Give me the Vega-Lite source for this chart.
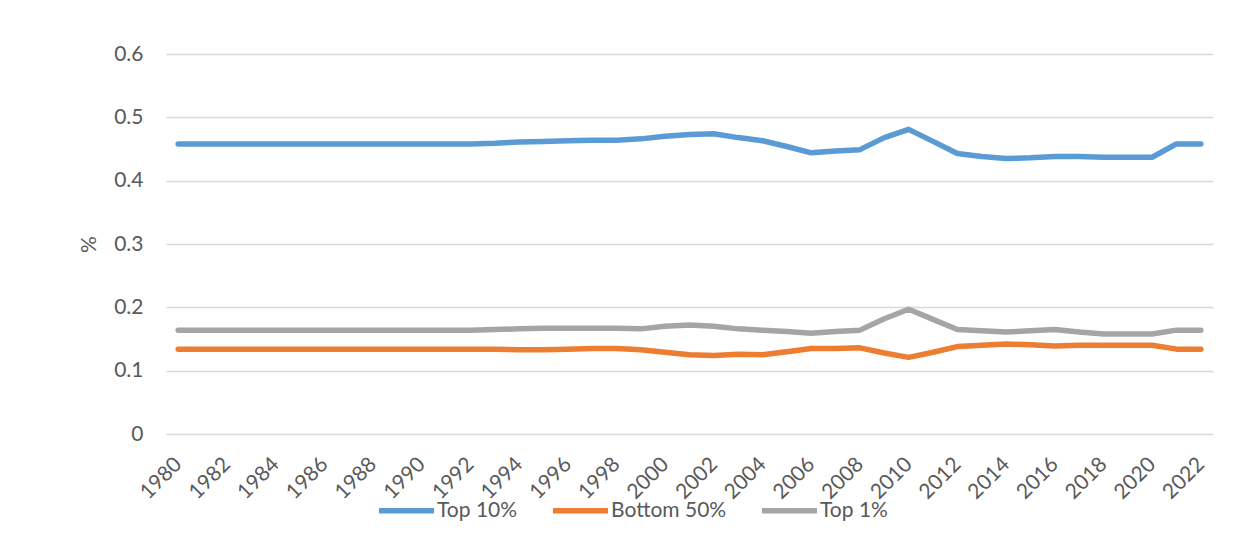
{
  "$schema": "https://vega.github.io/schema/vega-lite/v6.json",
  "width": 1047,
  "height": 380,
  "autosize": {"type": "none"},
  "padding": {"left": 166, "top": 54, "right": 35, "bottom": 108},
  "background": "white",
  "config": {
    "view": {"stroke": null},
    "font": "Lato",
    "axis": {"labelColor": "#595959", "titleColor": "#595959", "labelFont": "Lato", "titleFont": "Lato"},
    "legend": {"labelColor": "#595959", "labelFont": "Lato"}
  },
  "data": {
    "values": [
      {"year": 1980, "series": "Top 10%", "value": 0.458},
      {"year": 1981, "series": "Top 10%", "value": 0.458},
      {"year": 1982, "series": "Top 10%", "value": 0.458},
      {"year": 1983, "series": "Top 10%", "value": 0.458},
      {"year": 1984, "series": "Top 10%", "value": 0.458},
      {"year": 1985, "series": "Top 10%", "value": 0.458},
      {"year": 1986, "series": "Top 10%", "value": 0.458},
      {"year": 1987, "series": "Top 10%", "value": 0.458},
      {"year": 1988, "series": "Top 10%", "value": 0.458},
      {"year": 1989, "series": "Top 10%", "value": 0.458},
      {"year": 1990, "series": "Top 10%", "value": 0.458},
      {"year": 1991, "series": "Top 10%", "value": 0.458},
      {"year": 1992, "series": "Top 10%", "value": 0.458},
      {"year": 1993, "series": "Top 10%", "value": 0.459},
      {"year": 1994, "series": "Top 10%", "value": 0.461},
      {"year": 1995, "series": "Top 10%", "value": 0.462},
      {"year": 1996, "series": "Top 10%", "value": 0.463},
      {"year": 1997, "series": "Top 10%", "value": 0.464},
      {"year": 1998, "series": "Top 10%", "value": 0.464},
      {"year": 1999, "series": "Top 10%", "value": 0.466},
      {"year": 2000, "series": "Top 10%", "value": 0.470},
      {"year": 2001, "series": "Top 10%", "value": 0.473},
      {"year": 2002, "series": "Top 10%", "value": 0.474},
      {"year": 2003, "series": "Top 10%", "value": 0.468},
      {"year": 2004, "series": "Top 10%", "value": 0.463},
      {"year": 2005, "series": "Top 10%", "value": 0.454},
      {"year": 2006, "series": "Top 10%", "value": 0.444},
      {"year": 2007, "series": "Top 10%", "value": 0.447},
      {"year": 2008, "series": "Top 10%", "value": 0.449},
      {"year": 2009, "series": "Top 10%", "value": 0.468},
      {"year": 2010, "series": "Top 10%", "value": 0.481},
      {"year": 2011, "series": "Top 10%", "value": 0.462},
      {"year": 2012, "series": "Top 10%", "value": 0.443},
      {"year": 2013, "series": "Top 10%", "value": 0.438},
      {"year": 2014, "series": "Top 10%", "value": 0.435},
      {"year": 2015, "series": "Top 10%", "value": 0.436},
      {"year": 2016, "series": "Top 10%", "value": 0.438},
      {"year": 2017, "series": "Top 10%", "value": 0.438},
      {"year": 2018, "series": "Top 10%", "value": 0.437},
      {"year": 2019, "series": "Top 10%", "value": 0.437},
      {"year": 2020, "series": "Top 10%", "value": 0.437},
      {"year": 2021, "series": "Top 10%", "value": 0.458},
      {"year": 2022, "series": "Top 10%", "value": 0.458},
      {"year": 1980, "series": "Bottom 50%", "value": 0.134},
      {"year": 1981, "series": "Bottom 50%", "value": 0.134},
      {"year": 1982, "series": "Bottom 50%", "value": 0.134},
      {"year": 1983, "series": "Bottom 50%", "value": 0.134},
      {"year": 1984, "series": "Bottom 50%", "value": 0.134},
      {"year": 1985, "series": "Bottom 50%", "value": 0.134},
      {"year": 1986, "series": "Bottom 50%", "value": 0.134},
      {"year": 1987, "series": "Bottom 50%", "value": 0.134},
      {"year": 1988, "series": "Bottom 50%", "value": 0.134},
      {"year": 1989, "series": "Bottom 50%", "value": 0.134},
      {"year": 1990, "series": "Bottom 50%", "value": 0.134},
      {"year": 1991, "series": "Bottom 50%", "value": 0.134},
      {"year": 1992, "series": "Bottom 50%", "value": 0.134},
      {"year": 1993, "series": "Bottom 50%", "value": 0.134},
      {"year": 1994, "series": "Bottom 50%", "value": 0.133},
      {"year": 1995, "series": "Bottom 50%", "value": 0.133},
      {"year": 1996, "series": "Bottom 50%", "value": 0.134},
      {"year": 1997, "series": "Bottom 50%", "value": 0.135},
      {"year": 1998, "series": "Bottom 50%", "value": 0.135},
      {"year": 1999, "series": "Bottom 50%", "value": 0.133},
      {"year": 2000, "series": "Bottom 50%", "value": 0.129},
      {"year": 2001, "series": "Bottom 50%", "value": 0.125},
      {"year": 2002, "series": "Bottom 50%", "value": 0.124},
      {"year": 2003, "series": "Bottom 50%", "value": 0.126},
      {"year": 2004, "series": "Bottom 50%", "value": 0.125},
      {"year": 2005, "series": "Bottom 50%", "value": 0.130},
      {"year": 2006, "series": "Bottom 50%", "value": 0.135},
      {"year": 2007, "series": "Bottom 50%", "value": 0.135},
      {"year": 2008, "series": "Bottom 50%", "value": 0.136},
      {"year": 2009, "series": "Bottom 50%", "value": 0.128},
      {"year": 2010, "series": "Bottom 50%", "value": 0.121},
      {"year": 2011, "series": "Bottom 50%", "value": 0.129},
      {"year": 2012, "series": "Bottom 50%", "value": 0.138},
      {"year": 2013, "series": "Bottom 50%", "value": 0.140},
      {"year": 2014, "series": "Bottom 50%", "value": 0.142},
      {"year": 2015, "series": "Bottom 50%", "value": 0.141},
      {"year": 2016, "series": "Bottom 50%", "value": 0.139},
      {"year": 2017, "series": "Bottom 50%", "value": 0.140},
      {"year": 2018, "series": "Bottom 50%", "value": 0.140},
      {"year": 2019, "series": "Bottom 50%", "value": 0.140},
      {"year": 2020, "series": "Bottom 50%", "value": 0.140},
      {"year": 2021, "series": "Bottom 50%", "value": 0.134},
      {"year": 2022, "series": "Bottom 50%", "value": 0.134},
      {"year": 1980, "series": "Top 1%", "value": 0.164},
      {"year": 1981, "series": "Top 1%", "value": 0.164},
      {"year": 1982, "series": "Top 1%", "value": 0.164},
      {"year": 1983, "series": "Top 1%", "value": 0.164},
      {"year": 1984, "series": "Top 1%", "value": 0.164},
      {"year": 1985, "series": "Top 1%", "value": 0.164},
      {"year": 1986, "series": "Top 1%", "value": 0.164},
      {"year": 1987, "series": "Top 1%", "value": 0.164},
      {"year": 1988, "series": "Top 1%", "value": 0.164},
      {"year": 1989, "series": "Top 1%", "value": 0.164},
      {"year": 1990, "series": "Top 1%", "value": 0.164},
      {"year": 1991, "series": "Top 1%", "value": 0.164},
      {"year": 1992, "series": "Top 1%", "value": 0.164},
      {"year": 1993, "series": "Top 1%", "value": 0.165},
      {"year": 1994, "series": "Top 1%", "value": 0.166},
      {"year": 1995, "series": "Top 1%", "value": 0.167},
      {"year": 1996, "series": "Top 1%", "value": 0.167},
      {"year": 1997, "series": "Top 1%", "value": 0.167},
      {"year": 1998, "series": "Top 1%", "value": 0.167},
      {"year": 1999, "series": "Top 1%", "value": 0.166},
      {"year": 2000, "series": "Top 1%", "value": 0.170},
      {"year": 2001, "series": "Top 1%", "value": 0.172},
      {"year": 2002, "series": "Top 1%", "value": 0.170},
      {"year": 2003, "series": "Top 1%", "value": 0.166},
      {"year": 2004, "series": "Top 1%", "value": 0.164},
      {"year": 2005, "series": "Top 1%", "value": 0.162},
      {"year": 2006, "series": "Top 1%", "value": 0.159},
      {"year": 2007, "series": "Top 1%", "value": 0.162},
      {"year": 2008, "series": "Top 1%", "value": 0.164},
      {"year": 2009, "series": "Top 1%", "value": 0.182},
      {"year": 2010, "series": "Top 1%", "value": 0.197},
      {"year": 2011, "series": "Top 1%", "value": 0.181},
      {"year": 2012, "series": "Top 1%", "value": 0.165},
      {"year": 2013, "series": "Top 1%", "value": 0.163},
      {"year": 2014, "series": "Top 1%", "value": 0.161},
      {"year": 2015, "series": "Top 1%", "value": 0.163},
      {"year": 2016, "series": "Top 1%", "value": 0.165},
      {"year": 2017, "series": "Top 1%", "value": 0.161},
      {"year": 2018, "series": "Top 1%", "value": 0.158},
      {"year": 2019, "series": "Top 1%", "value": 0.158},
      {"year": 2020, "series": "Top 1%", "value": 0.158},
      {"year": 2021, "series": "Top 1%", "value": 0.164},
      {"year": 2022, "series": "Top 1%", "value": 0.164}
    ]
  },
  "mark": {"type": "line", "strokeWidth": 5.5, "strokeCap": "round", "strokeJoin": "round"},
  "encoding": {
    "x": {
      "field": "year",
      "type": "ordinal",
      "scale": {"type": "point", "padding": 0.5},
      "axis": {
        "title": null,
        "values": [1980, 1982, 1984, 1986, 1988, 1990, 1992, 1994, 1996, 1998, 2000, 2002, 2004, 2006, 2008, 2010, 2012, 2014, 2016, 2018, 2020, 2022],
        "labelAngle": -45,
        "labelAlign": "right",
        "labelBaseline": "middle",
        "labelFontSize": 21,
        "labelPadding": 27,
        "labelOverlap": false,
        "domain": false,
        "ticks": false,
        "grid": false
      }
    },
    "y": {
      "field": "value",
      "type": "quantitative",
      "scale": {"domain": [0, 0.6], "nice": false},
      "axis": {
        "title": "%",
        "titleFontSize": 21,
        "titleFontWeight": "normal",
        "titlePadding": 14,
        "values": [0, 0.1, 0.2, 0.3, 0.4, 0.5, 0.6],
        "format": "~g",
        "labelFontSize": 21,
        "labelPadding": 23,
        "domain": false,
        "ticks": false,
        "grid": true,
        "gridColor": "#D9D9D9",
        "gridWidth": 1.5
      }
    },
    "color": {
      "field": "series",
      "type": "nominal",
      "sort": ["Top 10%", "Bottom 50%", "Top 1%"],
      "scale": {"domain": ["Top 10%", "Bottom 50%", "Top 1%"], "range": ["#5B9BD5", "#ED7D31", "#A5A5A5"]},
      "legend": {
        "title": null,
        "orient": "none",
        "direction": "horizontal",
        "legendX": 210,
        "legendY": 426,
        "symbolType": "stroke",
        "symbolSize": 3025,
        "symbolStrokeWidth": 5.5,
        "labelFontSize": 21,
        "labelOffset": 0,
        "columnPadding": 24
      }
    }
  }
}
